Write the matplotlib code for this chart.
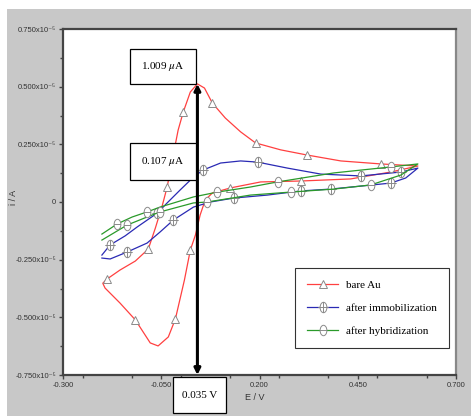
import matplotlib
matplotlib.use('Agg')
import matplotlib.pyplot as plt
import matplotlib.ticker as ticker
from matplotlib.patches import Rectangle
from matplotlib.path import Path

plt.rcParams['mathtext.fontset'] = 'stix'

# cyclic voltammograms, E in V, i in units of 1e-5 A
bare_E = [-0.198, -0.188, -0.155, -0.116, -0.083, -0.065, -0.047, -0.035, -0.022, -0.007, 0.006, 0.024,
          0.042, 0.060, 0.080, 0.113, 0.152, 0.190, 0.254, 0.320, 0.407, 0.509, 0.603,
          0.534, 0.432, 0.305, 0.203, 0.126, 0.080, 0.062, 0.049, 0.037, 0.024, 0.009, -0.014, -0.032,
          -0.058, -0.078, -0.116, -0.155, -0.193, -0.198]
bare_I = [-0.351, -0.334, -0.295, -0.256, -0.204, -0.113, -0.013, 0.065, 0.182, 0.312, 0.390, 0.477,
          0.512, 0.494, 0.429, 0.364, 0.304, 0.256, 0.226, 0.204, 0.178, 0.165, 0.156,
          0.130, 0.100, 0.091, 0.087, 0.061, 0.039, 0.009, -0.056, -0.143, -0.208, -0.338, -0.507, -0.585,
          -0.624, -0.611, -0.511, -0.438, -0.373, -0.355]
bare_marks = [1, 4, 7, 10, 14, 17, 19, 21, 25, 27, 32, 34, 38]

immob_E = [-0.201, -0.180, -0.142, -0.111, -0.060, -0.035, -0.002, 0.032, 0.057, 0.101, 0.152, 0.195,
           0.271, 0.356, 0.458, 0.560, 0.603,
           0.572, 0.534, 0.458, 0.381, 0.305, 0.220, 0.134, 0.075, 0.032, -0.019, -0.053, -0.086,
           -0.137, -0.180, -0.201]
immob_I = [-0.230, -0.186, -0.147, -0.108, -0.048, -0.004, 0.052, 0.108, 0.139, 0.169, 0.178, 0.173,
           0.147, 0.121, 0.113, 0.130, 0.147,
           0.104, 0.082, 0.069, 0.056, 0.048, 0.030, 0.017, 0.000, -0.022, -0.078, -0.130, -0.178,
           -0.217, -0.247, -0.243]
immob_marks = [1, 4, 8, 11, 14, 15, 18, 20, 21, 23, 26, 29]

hybr_E = [-0.201, -0.162, -0.124, -0.086, -0.053, 0.032, 0.093, 0.177, 0.246, 0.389, 0.534, 0.603,
          0.560, 0.483, 0.389, 0.279, 0.177, 0.067, 0.032, -0.053, -0.086, -0.137, -0.201]
hybr_I = [-0.139, -0.095, -0.065, -0.043, -0.022, 0.022, 0.043, 0.065, 0.087, 0.126, 0.152, 0.165,
          0.117, 0.074, 0.056, 0.043, 0.030, 0.000, -0.004, -0.043, -0.065, -0.100, -0.165]
hybr_marks = [1, 3, 6, 8, 10, 13, 15, 17, 19, 21]

labels = ['bare Au', 'after immobilization', 'after hybridization']
peak_text = '1.009 $\\mu$A'
second_text = '0.107 $\\mu$A'
pot_text = '0.035 V'

y_ticks = [-0.75, -0.5, -0.25, 0, 0.25, 0.5, 0.75]
y_ticklabels = ['-0.750x10\u207b\u2075', '-0.500x10\u207b\u2075', '-0.250x10\u207b\u2075', '0',
                '0.250x10\u207b\u2075', '0.500x10\u207b\u2075', '0.750x10\u207b\u2075']
x_ticks = [-0.3, -0.05, 0.2, 0.45, 0.7]
x_ticklabels = ['-0.300', '-0.050', '0.200', '0.450', '0.700']

W, H = 471, 416
fig = plt.figure(figsize=(W / 100, H / 100), dpi=100)
fig.patch.set_facecolor('white')
fig.add_artist(Rectangle((7 / W, 0), 1 - 7 / W, 1 - 9 / H, transform=fig.transFigure,
                         facecolor='#c8c8c8', edgecolor='none', zorder=-10))

ax = fig.add_axes([63 / W, 1 - 375 / H, (456 - 63) / W, (375 - 29) / H])
ax.set_facecolor('white')

circ = Path.unit_circle()
ell = Path(circ.vertices * [0.65, 1.0], circ.codes)
hl = Path([[-1.0, 0], [1.0, 0]], [Path.MOVETO, Path.LINETO])
hl_short = Path([[-0.65, 0], [0.65, 0]], [Path.MOVETO, Path.LINETO])
vl = Path([[0, -1.0], [0, 1.0]], [Path.MOVETO, Path.LINETO])
cross_marker = Path.make_compound_path(ell, hl, vl)
theta_marker = Path.make_compound_path(ell, hl_short)

mk = dict(markerfacecolor='white', markeredgecolor='#8a8a8a', markeredgewidth=0.7)
ax.plot(bare_E, bare_I, color='#ff4040', lw=0.9, marker='^', markersize=5.5,
        markevery=bare_marks, label=labels[0], **mk)
ax.plot(immob_E, immob_I, color='#2a2ab4', lw=0.9, marker=cross_marker, markersize=7.5,
        markevery=immob_marks, label=labels[1], **mk)
ax.plot(hybr_E, hybr_I, color='#2a9a2a', lw=0.9, marker=theta_marker, markersize=7.5,
        markevery=hybr_marks, label=labels[2], **mk)

ax.set_xlim(-0.3, 0.7)
ax.set_ylim(-0.75, 0.75)
ax.set_xticks(x_ticks)
ax.set_xticklabels(x_ticklabels)
ax.set_yticks(y_ticks)
ax.set_yticklabels(y_ticklabels)
ax.xaxis.set_minor_locator(ticker.MultipleLocator(0.125))
ax.yaxis.set_minor_locator(ticker.MultipleLocator(0.125))
ax.tick_params(which='major', length=3, width=1, color='#444444', labelsize=5.5,
               labelcolor='#333333', pad=2)
ax.tick_params(which='minor', length=2, width=1, color='#444444')
for lab in ax.get_xticklabels() + ax.get_yticklabels():
    lab.set_family(['Liberation Sans', 'DejaVu Sans'])
for side in ['left', 'bottom', 'top']:
    ax.spines[side].set_color('#444444')
    ax.spines[side].set_linewidth(1.6)
ax.spines['right'].set_color('#888888')
ax.spines['right'].set_linewidth(1.6)

fig.text(14 / W, 1 - 197 / H, 'i / A', rotation=90, ha='center', va='center',
         fontsize=6.5, color='#333333', family='Liberation Sans')
fig.text(255 / W, 1 - 398 / H, 'E / V', ha='center', va='center',
         fontsize=6.5, color='#333333', family='Liberation Sans')

leg = ax.legend(loc='upper left', bbox_to_anchor=(295 / W, 1 - 268 / H),
                bbox_transform=fig.transFigure, frameon=True, fancybox=False,
                edgecolor='black', handlelength=2.8, handletextpad=0.7,
                labelspacing=1.2, borderpad=1.1, borderaxespad=0,
                prop={'family': 'Liberation Serif', 'size': 8})
leg.get_frame().set_linewidth(0.8)

# peak marker arrow
pk = bare_I.index(max(bare_I))
ax.annotate('', xy=(bare_E[pk], bare_I[pk]), xytext=(bare_E[pk], -0.75),
            arrowprops=dict(arrowstyle='<|-|>', lw=2.2, color='black',
                            mutation_scale=9, shrinkA=0, shrinkB=0),
            annotation_clip=False, zorder=5)


def text_box(x0, y0, x1, y1, txt):
    fig.add_artist(Rectangle((x0 / W, 1 - y1 / H), (x1 - x0) / W, (y1 - y0) / H,
                             transform=fig.transFigure, facecolor='white',
                             edgecolor='black', lw=0.9, zorder=6))
    fig.text((x0 + x1) / 2 / W, 1 - (y0 + y1) / 2 / H, txt, ha='center', va='center',
             fontsize=8, family='Liberation Serif', zorder=7)


text_box(130, 49, 196, 84, peak_text)
text_box(130, 143, 196, 180, second_text)
text_box(173, 377, 226, 413, pot_text)

plt.savefig('out.png', dpi=100)
